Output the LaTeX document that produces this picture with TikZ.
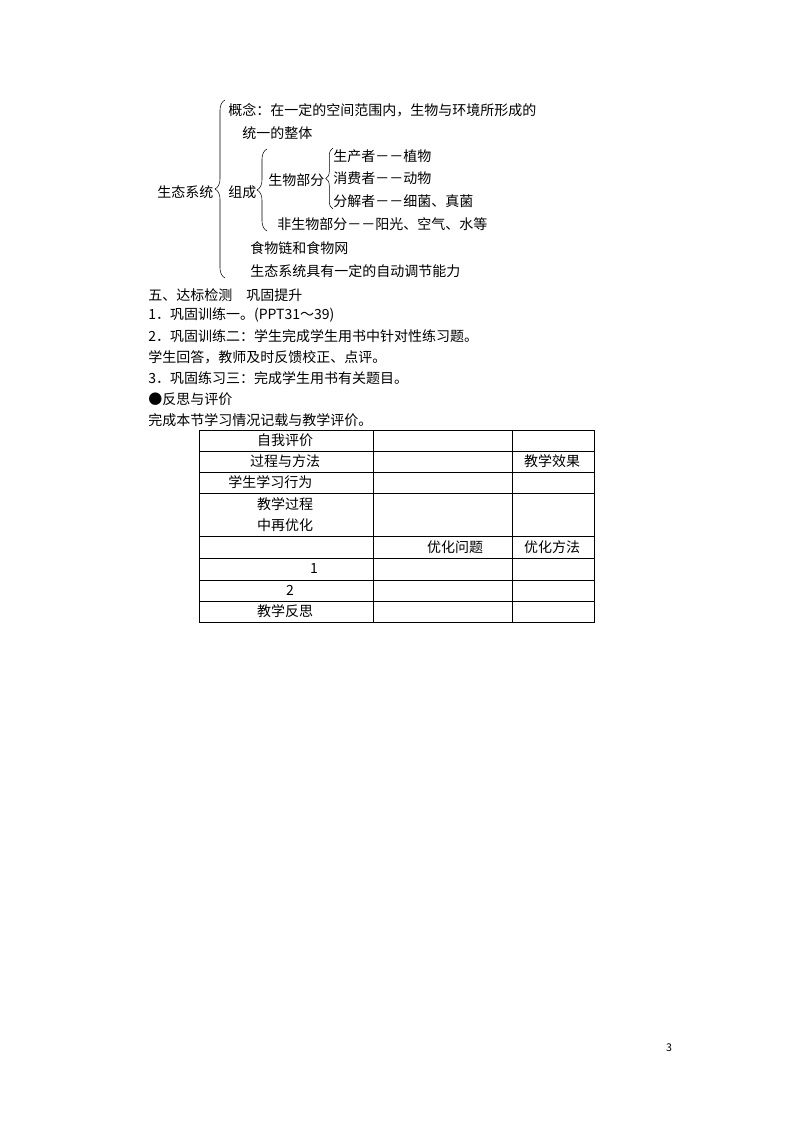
\documentclass[tikz,border=0pt]{standalone}
\usepackage{fontspec}
\setmainfont{Noto Sans CJK SC}
\usetikzlibrary{decorations.pathreplacing}
\begin{document}
\begin{tikzpicture}[x=0.75pt,y=-0.75pt,
  txt/.style={anchor=west,inner sep=0pt,font=\fontsize{10.5pt}{12pt}\selectfont},
  ctxt/.style={anchor=center,inner sep=0pt,font=\fontsize{10.5pt}{12pt}\selectfont},
  brc/.style={decorate,thin,decoration={brace,amplitude=#1}},
  grid/.style={line width=0.6pt}]
\useasboundingbox (0,0) rectangle (794,1123);
% concept map
\node[txt] (root) at (157,192) {生态系统};
\node[txt] (concept) at (228,110) {概念：在一定的空间范围内，生物与环境所形成的};
\node[txt] (concept2) at (242,133) {统一的整体};
\node[txt] (comp) at (228,192) {组成};
\node[txt] (bio) at (268,180) {生物部分};
\node[txt] (prod) at (333,156) {生产者－－植物};
\node[txt] (cons) at (333,178) {消费者－－动物};
\node[txt] (deco) at (333,201) {分解者－－细菌、真菌};
\node[txt] (abio) at (277,224) {非生物部分－－阳光、空气、水等};
\node[txt] (food) at (250,248) {食物链和食物网};
\node[txt] (self) at (250,271) {生态系统具有一定的自动调节能力};
\coordinate (b1s) at (225,278); \coordinate (b1e) at (225,100);
\coordinate (b2s) at (267,231); \coordinate (b2e) at (267,149);
\coordinate (b3s) at (333,209); \coordinate (b3e) at (333,148);
\draw[brc=7.5pt] (b1s) -- (b1e);
\draw[brc=7.5pt] (b2s) -- (b2e);
\draw[brc=5.5pt] (b3s) -- (b3e);
% text lines
\node[txt] (t1) at (148,295) {五、达标检测　巩固提升};
\node[txt] (t2) at (148,315) {1．巩固训练一。(PPT31～39)};
\node[txt] (t3) at (148,336) {2．巩固训练二：学生完成学生用书中针对性练习题。};
\node[txt] (t4) at (148,357) {学生回答，教师及时反馈校正、点评。};
\node[txt] (t5) at (148,378) {3．巩固练习三：完成学生用书有关题目。};
\node[txt] (t6) at (148,399) {●反思与评价};
\node[txt] (t7) at (148,420) {完成本节学习情况记载与教学评价。};
% table
\draw[grid] (199,430) rectangle (594,622);
\foreach \y in {451,472,493,536,558,580,601} \draw[grid] (199,\y) -- (594,\y);
\draw[grid] (373,430) -- (373,622);
\draw[grid] (512,430) -- (512,622);
\node[ctxt] (c1) at (285,440) {自我评价};
\node[ctxt] (c2) at (285,461) {过程与方法};
\node[ctxt] (c3) at (552,461) {教学效果};
\node[txt] (c4) at (228,482) {学生学习行为};
\node[ctxt] (c5) at (285,504) {教学过程};
\node[ctxt] (c6) at (285,525) {中再优化};
\node[ctxt] (c7) at (455,547) {优化问题};
\node[ctxt] (c8) at (552,547) {优化方法};
\node[ctxt] (c9) at (314,569) {1};
\node[ctxt] (c10) at (290,590) {2};
\node[ctxt] (c11) at (285,611) {教学反思};
\node[ctxt,font=\fontsize{8pt}{9pt}\selectfont] (pg) at (669,1048) {3};
\end{tikzpicture}
\end{document}
